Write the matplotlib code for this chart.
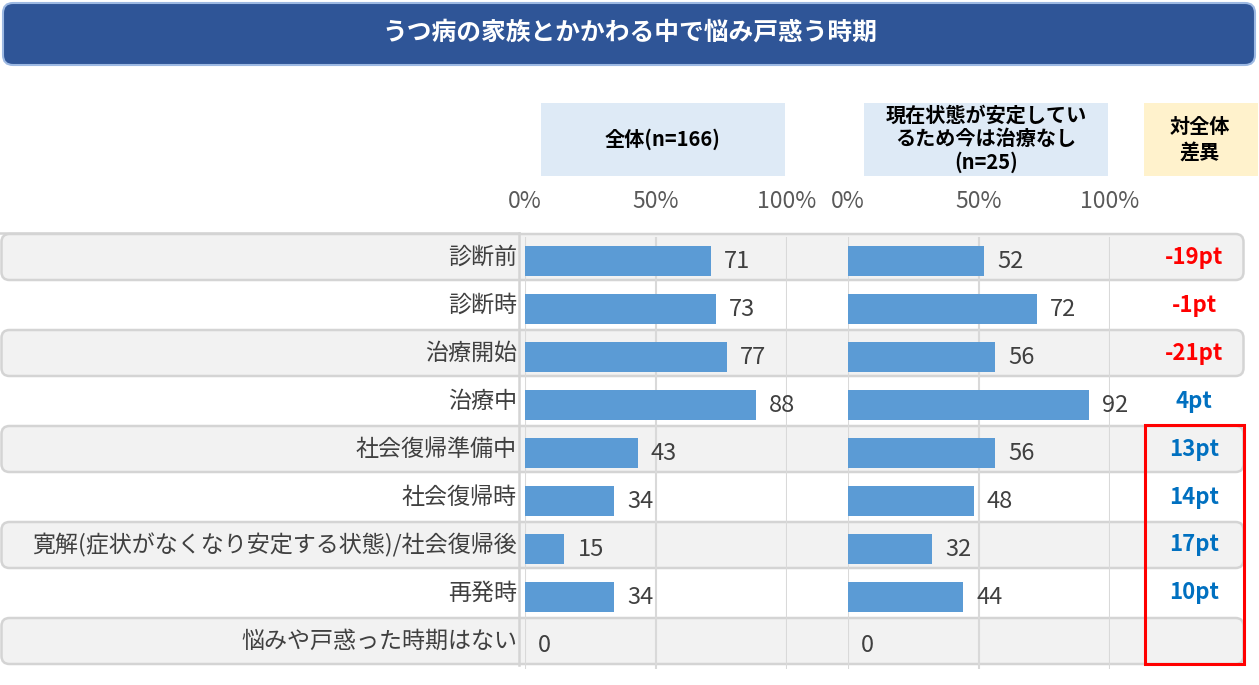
import matplotlib
matplotlib.use("Agg")
import matplotlib.pyplot as plt
from matplotlib.patches import FancyBboxPatch, Rectangle

plt.rcParams['font.family'] = ['Noto Sans CJK JP', 'DejaVu Sans']

title = "うつ病の家族とかかわる中で悩み戸惑う時期"
categories = ["診断前", "診断時", "治療開始", "治療中", "社会復帰準備中", "社会復帰時",
              "寛解(症状がなくなり安定する状態)/社会復帰後", "再発時", "悩みや戸惑った時期はない"]
total_vals = [71, 73, 77, 88, 43, 34, 15, 34, 0]
stable_vals = [52, 72, 56, 92, 56, 48, 32, 44, 0]
diff_vals = [-19, -1, -21, 4, 13, 14, 17, 10, None]
header_total = "全体(n=166)"
header_stable = "現在状態が安定してい\nるため今は治療なし\n(n=25)"
header_diff = "対全体\n差異"
tick_vals = [0, 50, 100]
tick_labels = ["0%", "50%", "100%"]

W, H = 1259, 685
fig = plt.figure(figsize=(W / 100, H / 100), dpi=100)

# background axes in pixel coordinates
bg = fig.add_axes([0, 0, 1, 1])
bg.set_xlim(0, W)
bg.set_ylim(H, 0)
bg.axis('off')

# title box
bg.add_patch(FancyBboxPatch((3, 3), 1252, 62, boxstyle="round,pad=0,rounding_size=10",
                            facecolor="#2F5597", edgecolor="#9DB9E3", lw=1.5))
bg.text(630, 33, title, color="white", fontsize=17.8, fontweight="bold",
        ha="center", va="center")

# header boxes
bg.add_patch(Rectangle((541, 103), 244, 73, facecolor="#DEEAF6", edgecolor="none"))
bg.add_patch(Rectangle((864, 103), 244, 73, facecolor="#DEEAF6", edgecolor="none"))
bg.add_patch(Rectangle((1144, 103), 114, 73, facecolor="#FFF2CC", edgecolor="none"))
bg.text(663, 139, header_total, fontsize=14.5, fontweight="bold", ha="center", va="center")
bg.text(986, 139, header_stable, fontsize=14.5, fontweight="bold", ha="center", va="center",
        linespacing=1.15)
bg.text(1200, 139, header_diff, fontsize=14.5, fontweight="bold", ha="center", va="center",
        linespacing=1.25)

# row bands
row_top0 = 233
row_h = 48
n = len(categories)
for i in range(n):
    top = row_top0 + row_h * i
    if i % 2 == 0:
        bg.add_patch(FancyBboxPatch((1.5, top + 1), 1242, row_h - 2,
                                    boxstyle="round,pad=0,rounding_size=8",
                                    facecolor="#F2F2F2", edgecolor="#D4D4D4", lw=1.8))
    bg.text(517, top + 24, categories[i], fontsize=16.6, color="#404040",
            ha="right", va="center")
    d = diff_vals[i]
    if d is not None:
        col = "#FF0000" if d < 0 else "#0070C0"
        bg.text(1194, top + 24, f"{d}pt", fontsize=16, fontweight="bold", color=col,
                ha="center", va="center")
bg.plot([519, 519], [row_top0, row_top0 + row_h * n], color="#D4D4D4", lw=1.8)
bg.plot([0, 519], [row_top0, row_top0], color="#D4D4D4", lw=1.8)

# red rectangle
bg.add_patch(Rectangle((1145, 425), 99, 239, facecolor="none", edgecolor="#FF0000", lw=2.2))


def panel(x0, vals):
    ax = fig.add_axes([x0 / W, 1 - 669 / H, 262 / W, 432 / H])
    ax.set_facecolor("none")
    ys = list(range(len(vals)))
    ax.barh(ys, vals, height=0.63, color="#5B9BD5", zorder=3)
    for y, v in zip(ys, vals):
        ax.text(v + 5, y, f"{v}", fontsize=17, color="#404040", va="center", ha="left",
                zorder=4)
    ax.set_xlim(0, 100)
    ax.set_ylim(len(vals) - 0.5, -0.5)
    ax.xaxis.tick_top()
    ax.set_xticks(tick_vals)
    ax.set_xticklabels(tick_labels)
    ax.tick_params(axis='x', length=0, pad=17, labelsize=16.5, labelcolor="#595959")
    ax.set_yticks([])
    ax.grid(axis='x', color="#D9D9D9", lw=1.5, zorder=1)
    for s in ax.spines.values():
        s.set_visible(False)
    return ax


panel(525, total_vals)
panel(848, stable_vals)

fig.savefig("out.png", dpi=100)
